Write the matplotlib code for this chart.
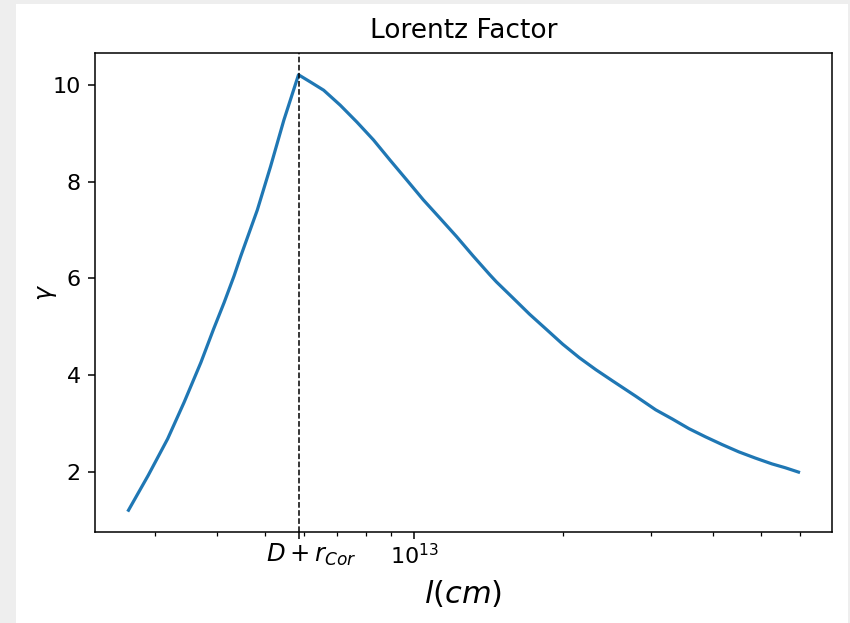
import numpy as np
import matplotlib
matplotlib.use("Agg")
import matplotlib.pyplot as plt
from matplotlib.patches import Rectangle
from matplotlib.transforms import ScaledTranslation

# ---- datos ----
D_rcor = 5.85e12  # posicion de D + r_Cor [cm]

# tramo creciente (antes de D + r_Cor)
l_sube = [2.657e12, 2.911e12, 3.187e12, 3.441e12, 3.718e12, 3.943e12, 4.141e12, 4.336e12,
          4.473e12, 4.832e12, 5.138e12, 5.465e12, 5.85e12]
g_sube = [1.20, 1.92, 2.68, 3.44, 4.26, 4.95, 5.50, 6.05,
          6.46, 7.42, 8.32, 9.28, 10.22]

# tramo decreciente (despues de D + r_Cor)
l_baja = [5.85e12, 6.183e12, 6.575e12, 7.10e12, 7.672e12, 8.285e12, 8.951e12, 9.67e12,
          1.044e13, 1.128e13, 1.218e13, 1.315e13, 1.421e13, 1.466e13, 1.582e13, 1.710e13,
          1.847e13, 1.994e13, 2.154e13, 2.327e13, 2.513e13, 2.801e13, 3.071e13, 3.317e13,
          3.583e13, 3.870e13, 4.180e13, 4.514e13, 4.878e13, 5.267e13, 5.604e13, 5.959e13]
g_baja = [10.22, 10.07, 9.90, 9.59, 9.24, 8.87, 8.45, 8.04,
          7.63, 7.25, 6.87, 6.47, 6.08, 5.93, 5.60, 5.26,
          4.95, 4.64, 4.36, 4.11, 3.88, 3.56, 3.28, 3.09,
          2.89, 2.72, 2.56, 2.41, 2.28, 2.16, 2.08, 1.99]

tick_pos = [D_rcor, 1e13]
tick_lab = [r'$D+r_{Cor}$', r'$10^{13}$']

l = np.array(l_sube + l_baja[1:])
gamma = np.array(g_sube + g_baja[1:])

# ---- figura ----
fig = plt.figure(figsize=(8.5, 6.23), dpi=100, facecolor='#eeeeee')
fig.patches.append(Rectangle((16/850, 0), 832/850, 619/623, transform=fig.transFigure,
                             facecolor='white', edgecolor='none', zorder=-1))
ax = fig.add_axes([95/850, 91/623, 737/850, 479/623])

ax.plot(l, gamma, color='#1f77b4', lw=2.3, solid_joinstyle='round')
ax.axvline(D_rcor, color='black', ls='--', lw=1.1)
ax.set_xscale('log')
ax.set_xticks(tick_pos, tick_lab)
ax.set_yticks([2, 4, 6, 8, 10])

ax.set_title('Lorentz Factor', fontsize=19, pad=10.5)
ax.set_xlabel(r'$l(cm)$', fontsize=22, labelpad=6.5)
ax.set_ylabel(r'$\gamma$', fontsize=17, labelpad=-5)

ax.tick_params(which='major', labelsize=16, length=4.7, width=1.1)
ax.tick_params(axis='y', which='major', pad=5.5)
ax.tick_params(which='minor', length=2.7, width=0.9)
for s in ax.spines.values():
    s.set_linewidth(1.1)

# la etiqueta D + r_Cor va un poco corrida a la derecha y mas grande
lbl = ax.get_xticklabels()[0]
lbl.set_fontsize(17.5)
lbl.set_transform(lbl.get_transform() + ScaledTranslation(0.13, 0.02, fig.dpi_scale_trans))

fig.savefig('out.png', dpi=100, facecolor=fig.get_facecolor())
